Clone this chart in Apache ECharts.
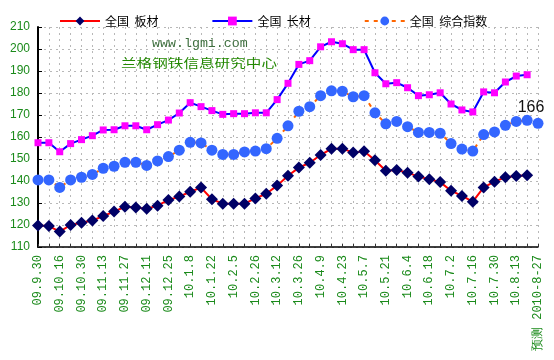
<!DOCTYPE html>
<html><head><meta charset="utf-8">
<script src="https://cdn.jsdelivr.net/npm/echarts@6/dist/echarts.min.js"></script>
<style>html,body{margin:0;padding:0;background:#fff}#c{width:554px;height:360px}</style>
</head><body><div id="c"></div>
<script>
const categories = ['09.9.30','09.10.9','09.10.16','09.10.23','09.10.30','09.11.6','09.11.13','09.11.20','09.11.27','09.12.4','09.12.11','09.12.18','09.12.25','10.1.1','10.1.8','10.1.15','10.1.22','10.1.29','10.2.5','10.2.12','10.2.26','10.3.5','10.3.12','10.3.19','10.3.26','10.4.2','10.4.9','10.4.16','10.4.23','10.4.30','10.5.7','10.5.14','10.5.21','10.5.28','10.6.4','10.6.11','10.6.18','10.6.25','10.7.2','10.7.9','10.7.16','10.7.23','10.7.30','10.8.6','10.8.13','10.8.20','预测 2010-8-27'];
const plate = [119.8,119.5,117.0,120.0,121.0,122.0,124.1,126.1,128.3,127.9,127.4,128.8,131.4,132.9,135.1,137.0,131.7,129.7,129.7,129.7,132.1,134.2,137.9,142.4,146.1,148.3,151.8,154.7,154.7,152.9,153.5,149.4,144.7,145.0,143.8,142.0,140.8,139.5,135.6,133.2,130.6,137.1,139.7,141.7,142.3,142.6];
const longMat = [157.4,157.4,153.3,157.0,158.8,160.6,163.2,163.3,165.1,165.1,163.3,165.6,167.7,170.9,175.6,173.8,172.0,170.3,170.6,170.6,171.0,171.0,177.0,184.4,193.0,194.7,201.0,203.3,202.4,199.7,199.7,189.2,184.2,184.7,182.4,178.8,179.2,180.1,175.0,172.3,171.4,180.5,180.1,185.0,187.7,188.3];
const composite = [140.5,140.5,137.1,140.5,141.7,143.0,145.8,146.7,148.5,148.5,147.1,149.1,151.1,154.0,157.6,157.3,154.0,152.1,152.1,153.2,153.6,154.7,159.4,165.1,171.7,173.8,178.8,181.0,180.8,178.3,178.8,171.0,166.0,167.1,164.7,162.1,162.1,161.7,157.0,154.5,153.6,161.1,162.3,165.3,167.1,167.6,166.2];
const forecastLabel = '166';
const seriesNames = ['全国  板材','全国  长材','全国  综合指数'];
const yMin = 110, yMax = 210, yInterval = 10;

const green = '#1a8a1a';
const chart = echarts.init(document.getElementById('c'), null, {renderer:'canvas'});
const compData = composite.map((v,i) => i === composite.length - 1 ? {
  value: v,
  label: {show:true, formatter: forecastLabel, position:'top', offset:[-7,3], fontSize:16, color:'#111', fontFamily:'Liberation Sans'}
} : v);
chart.setOption({
  animation:false,
  backgroundColor:'#fff',
  legend:{
    left:54, top:10, itemWidth:40, itemHeight:11, itemGap:53,
    textStyle:{fontSize:12, color:'#000', fontFamily:'Noto Sans CJK SC'},
    data: seriesNames
  },
  grid:{left:38, right:16, top:27, bottom:113, outerBoundsMode:'none'},
  xAxis:{
    type:'category', data:categories, boundaryGap:false,
    axisLine:{lineStyle:{color:'#000', width:1.5}},
    axisTick:{show:true, inside:true, length:3, interval:0, lineStyle:{color:'#333'}},
    axisLabel:{interval:1, rotate:90, margin:8, color:green, fontSize:12, fontFamily:'Liberation Mono'},
    splitLine:{show:true, interval:0, lineStyle:{color:'#b8b8b8', type:[2,4], width:1}}
  },
  yAxis:{
    type:'value', min:yMin, max:yMax, interval:yInterval,
    axisLine:{show:true, lineStyle:{color:'#000', width:2}},
    axisTick:{show:true, inside:true, length:4, lineStyle:{color:'#000'}},
    axisLabel:{margin:8, color:green, fontSize:12, fontFamily:'Liberation Sans'},
    splitLine:{show:true, lineStyle:{color:'#b8b8b8', type:[2,4], width:1}}
  },
  graphic:[
    {type:'text', left:152, top:37, z:1, style:{text:'www.lgmi.com', font:'13.3px "Liberation Mono"', fill:'#3f6f3f'}},
    {type:'text', x:121, y:57, scaleX:1.3, z:1, style:{text:'兰格钢铁信息研究中心', font:'12px "Noto Sans CJK SC"', fill:'#228800'}}
  ],
  series:[
    {name:seriesNames[0], type:'line', data:plate, symbol:'diamond', symbolSize:12, showAllSymbol:true,
     lineStyle:{color:'#ff0000', width:2}, itemStyle:{color:'#000066'}, z:3},
    {name:seriesNames[1], type:'line', data:longMat, symbol:'rect', symbolSize:7, showAllSymbol:true,
     lineStyle:{color:'#0000ff', width:2}, itemStyle:{color:'#ff00ff'}, z:3},
    {name:seriesNames[2], type:'line', data:compData, symbol:'circle', symbolSize:11, showAllSymbol:true,
     lineStyle:{color:'#ff6600', width:2, type:[4,5]}, itemStyle:{color:'#3366ff'}, z:2}
  ]
});
</script></body></html>
